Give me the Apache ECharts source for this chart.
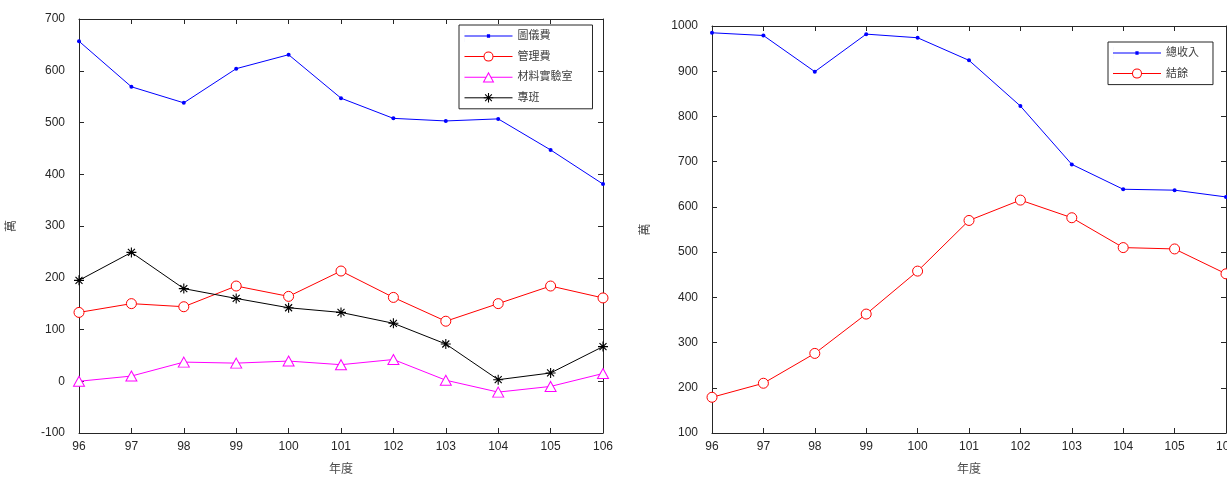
<!DOCTYPE html>
<html>
<head>
<meta charset="utf-8">
<script src="https://cdn.jsdelivr.net/npm/echarts@6/dist/echarts.min.js"></script>
<style>
html,body{margin:0;padding:0;background:#fff;}
#chart{width:1227px;height:477px;}
</style>
</head>
<body>
<div id="chart"></div>
<script>
// ---- data ----
const years = ['96','97','98','99','100','101','102','103','104','105','106'];
const tuYiFei = [657, 569, 538, 604, 631, 547, 508, 503, 507, 447, 381];   // 圖儀費
const guanLiFei = [133, 150, 144, 184, 164, 213, 162, 116, 150, 184, 161]; // 管理費
const caiLiao = [0, 10, 37, 35, 39, 32, 42, 2, -21, -10, 15];              // 材料實驗室
const zhuanBan = [195, 249, 179, 160, 142, 133, 112, 72, 3, 16, 67];       // 專班
const zongShouRu = [985, 979, 899, 982, 974, 924, 823, 694, 639, 637, 622]; // 總收入
const jieYu = [179, 210, 276, 363, 458, 570, 615, 576, 510, 507, 452];      // 結餘

const leftNames = ['圖儀費', '管理費', '材料實驗室', '專班'];
const rightNames = ['總收入', '結餘'];

// ---- styling helpers ----
const FONT = "'Liberation Sans', Arial, 'Noto Sans CJK TC', sans-serif";
const AXC = '#262626';
const star = 'path://M8.9,0H11.1V20H8.9Z M0,8.9H20V11.1H0Z M3.8,2.2L17.8,16.2L16.2,17.8L2.2,3.8Z M16.2,2.2L17.8,3.8L3.8,17.8L2.2,16.2Z';
// legend icons (48 x 12 box; a hair-thin sliver fixes the box height)
const BOX = 'M0,0L0.03,0L0.03,12L0,12Z ';
const dotIcon = 'path://' + BOX + 'M0,5.5H48V6.5H0Z M22.4,4.3h3.2v3.4h-3.2Z';
const ringIcon = 'path://' + BOX + 'M0,5.5H19V6.5H0Z M29,5.5H48V6.5H29Z ' +
  'M19,6A5,5 0 1,1 29,6A5,5 0 1,1 19,6Z M20,6A4,4 0 1,0 28,6A4,4 0 1,0 20,6Z';
const triIcon = 'path://' + BOX + 'M0,5.5H21.3V6.5H0Z M26.7,5.5H48V6.5H26.7Z ' +
  'M24,0.6L29.8,11.2L18.2,11.2Z M24,2.7L19.9,10.2L28.1,10.2Z';

function bottomX(g) {
  return {
    gridIndex: g, type: 'category', data: years, boundaryGap: false, position: 'bottom',
    name: '年度', nameLocation: 'middle', nameGap: 31,
    nameTextStyle: {color: '#4d4d4d', fontSize: 12, fontFamily: FONT},
    axisLine: {show: true, onZero: false, lineStyle: {color: AXC, width: 1}},
    axisTick: {show: true, inside: true, length: 5, interval: 0, lineStyle: {color: AXC}},
    axisLabel: {show: true, interval: 0, margin: 8, color: AXC, fontSize: 12, fontFamily: FONT},
    splitLine: {show: false}
  };
}
function topX(g) {
  return {
    gridIndex: g, type: 'category', data: years, boundaryGap: false, position: 'top',
    axisLine: {show: true, onZero: false, lineStyle: {color: AXC, width: 1}},
    axisTick: {show: true, inside: true, length: 5, interval: 0, lineStyle: {color: AXC}},
    axisLabel: {show: false}, splitLine: {show: false}
  };
}
function leftY(g, min, max, gap) {
  return {
    gridIndex: g, type: 'value', min: min, max: max, interval: 100, position: 'left',
    name: '萬', nameLocation: 'middle', nameGap: gap,
    nameTextStyle: {color: '#4d4d4d', fontSize: 12, fontFamily: FONT},
    axisLine: {show: true, onZero: false, lineStyle: {color: AXC, width: 1}},
    axisTick: {show: true, inside: true, length: 5, lineStyle: {color: AXC}},
    axisLabel: {show: true, margin: 14, color: AXC, fontSize: 12, fontFamily: FONT,
      formatter: function (v) { return String(v); }},
    splitLine: {show: false}
  };
}
function rightY(g, min, max) {
  return {
    gridIndex: g, type: 'value', min: min, max: max, interval: 100, position: 'right',
    axisLine: {show: true, onZero: false, lineStyle: {color: AXC, width: 1}},
    axisTick: {show: true, inside: true, length: 5, lineStyle: {color: AXC}},
    axisLabel: {show: false}, splitLine: {show: false}
  };
}
function lineSeries(name, data, color, xi, yi, symbol, size, hollow) {
  return {
    name: name, type: 'line', data: data, xAxisIndex: xi, yAxisIndex: yi,
    symbol: symbol, symbolSize: size, showAllSymbol: true,
    lineStyle: {color: color, width: 1},
    itemStyle: {color: hollow ? '#ffffff' : color, borderColor: color, borderWidth: hollow ? 1 : 0},
    emphasis: {disabled: true}, z: 3
  };
}
function legendItem(name, icon, color) {
  return {name: name, icon: icon, itemStyle: {color: color, borderWidth: 0}, lineStyle: {color: color, width: 1}};
}

const legendCommon = {
  orient: 'vertical', itemWidth: 48, itemHeight: 12, itemGap: 8.6,
  backgroundColor: '#fff', borderColor: AXC, borderWidth: 1,
  lineStyle: {width: 1},
  itemStyle: {borderWidth: 0},
  textStyle: {color: '#404040', fontSize: 11, lineHeight: 12, fontFamily: FONT},
  selectedMode: false
};

const option = {
  animation: false,
  backgroundColor: '#fff',
  textStyle: {fontFamily: FONT},
  grid: [
    {left: 79, top: 19, width: 524, height: 414, outerBoundsMode: 'none', containLabel: false},
    {left: 712, top: 26, width: 514, height: 407, outerBoundsMode: 'none', containLabel: false}
  ],
  xAxis: [bottomX(0), topX(0), bottomX(1), topX(1)],
  yAxis: [leftY(0, -100, 700, 61), rightY(0, -100, 700), leftY(1, 100, 1000, 60), rightY(1, 100, 1000)],
  legend: [
    Object.assign({}, legendCommon, {
      left: 459, top: 25, padding: [5, 20, 5, 5],
      data: [
        legendItem(leftNames[0], dotIcon, '#0000ff'),
        legendItem(leftNames[1], ringIcon, '#ff0000'),
        legendItem(leftNames[2], triIcon, '#ff00ff'),
        leftNames[3]
      ]
    }),
    Object.assign({}, legendCommon, {
      left: 1108, top: 42, padding: [5, 14, 5, 5],
      data: [legendItem(rightNames[0], dotIcon, '#0000ff'), legendItem(rightNames[1], ringIcon, '#ff0000')]
    })
  ],
  series: [
    lineSeries(leftNames[0], tuYiFei, '#0000ff', 0, 0, 'circle', 4, false),
    lineSeries(leftNames[1], guanLiFei, '#ff0000', 0, 0, 'circle', 10, true),
    lineSeries(leftNames[2], caiLiao, '#ff00ff', 0, 0, 'triangle', [11, 10], true),
    lineSeries(leftNames[3], zhuanBan, '#000000', 0, 0, star, 10, false),
    lineSeries(rightNames[0], zongShouRu, '#0000ff', 2, 2, 'circle', 4, false),
    lineSeries(rightNames[1], jieYu, '#ff0000', 2, 2, 'circle', 10, true)
  ]
};

const chart = echarts.init(document.getElementById('chart'), null, {renderer: 'canvas'});
chart.setOption(option);
</script>
</body>
</html>
